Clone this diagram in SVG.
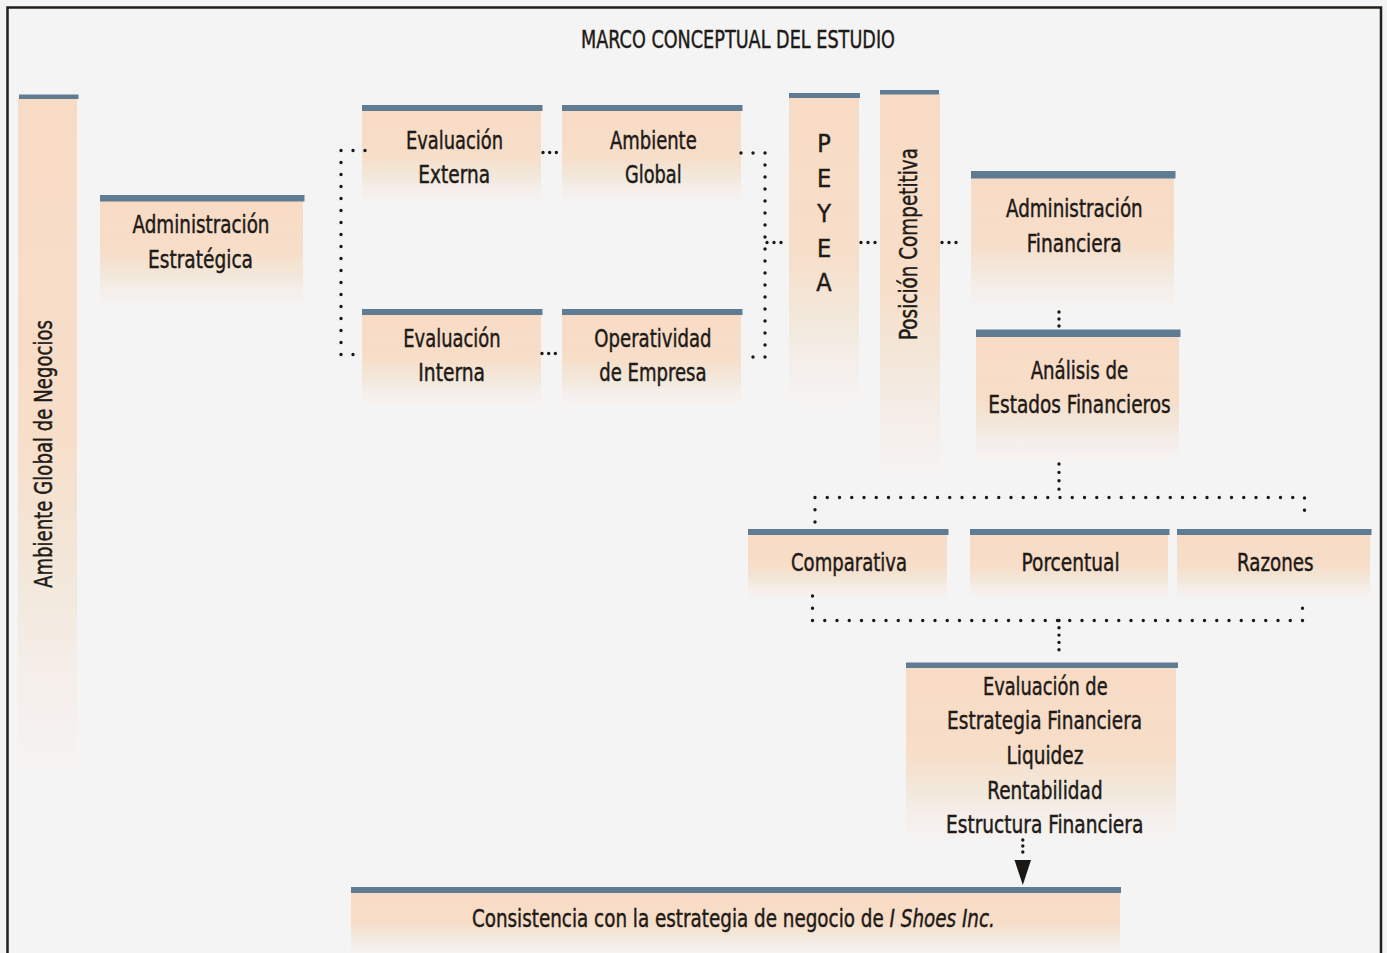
<svg xmlns="http://www.w3.org/2000/svg" width="1387" height="953" viewBox="0 0 1387 953">
<style>
.t{font-family:"Liberation Sans Narrow","DejaVu Sans Condensed","Liberation Sans",sans-serif;font-size:25px;fill:#1e1a17;stroke:#1e1a17;stroke-width:0.45px}
.bar{fill:#5f7c93}
.box{fill:url(#g)}
.d12{fill:none;stroke:#1a1714;stroke-width:3.4;stroke-linecap:round;stroke-dasharray:0 12}
.d7{fill:none;stroke:#1a1714;stroke-width:3.4;stroke-linecap:round;stroke-dasharray:0 7}
</style>
<defs>
<linearGradient id="g" x1="0" y1="0" x2="0" y2="1">
<stop offset="0" stop-color="#f8dbc5"/>
<stop offset="0.5" stop-color="#f7dec9"/>
<stop offset="0.72" stop-color="#f2e8db"/>
<stop offset="0.86" stop-color="#f5eeea"/>
<stop offset="1" stop-color="#f5f3f1"/>
</linearGradient>
</defs>
<rect x="0" y="0" width="1387" height="953" fill="#f4f4f4"/>
<rect x="7.5" y="7.5" width="1373.5" height="960" fill="#f4f4f4" stroke="#231e1a" stroke-width="2.5"/>
<text class="t" x="581" y="48" font-size="24" textLength="314" lengthAdjust="spacingAndGlyphs">MARCO CONCEPTUAL DEL ESTUDIO</text>

<g id="ambiente-global-negocios">
<rect class="box" x="18" y="98" width="59" height="672"/>
<rect class="bar" x="19" y="94.5" width="59.5" height="4.5"/>
<text class="t" transform="translate(51.5,588) rotate(-90)" x="0" y="0" textLength="268" lengthAdjust="spacingAndGlyphs">Ambiente Global de Negocios</text>
</g>

<g id="admin-estrategica">
<rect class="box" x="100" y="201" width="203" height="104"/>
<rect class="bar" x="100" y="195" width="204.5" height="6.5"/>
<text class="t" x="132.5" y="233" textLength="137" lengthAdjust="spacingAndGlyphs">Administración</text>
<text class="t" x="148" y="267.5" textLength="105" lengthAdjust="spacingAndGlyphs">Estratégica</text>
</g>

<g id="evaluacion-externa">
<rect class="box" x="362" y="111" width="179" height="91"/>
<rect class="bar" x="362" y="105" width="180.5" height="6"/>
<text class="t" x="406" y="148.5" textLength="97" lengthAdjust="spacingAndGlyphs">Evaluación</text>
<text class="t" x="418.3" y="182.7" textLength="71.7" lengthAdjust="spacingAndGlyphs">Externa</text>
</g>

<g id="ambiente-global">
<rect class="box" x="562" y="111" width="179" height="91"/>
<rect class="bar" x="562" y="105" width="180.5" height="6"/>
<text class="t" x="610" y="148.5" textLength="86.7" lengthAdjust="spacingAndGlyphs">Ambiente</text>
<text class="t" x="625" y="182.7" textLength="56.7" lengthAdjust="spacingAndGlyphs">Global</text>
</g>

<g id="evaluacion-interna">
<rect class="box" x="362" y="315" width="179" height="90"/>
<rect class="bar" x="362" y="309" width="180.5" height="6"/>
<text class="t" x="403.3" y="346.5" textLength="97.3" lengthAdjust="spacingAndGlyphs">Evaluación</text>
<text class="t" x="418.3" y="380.7" textLength="66.7" lengthAdjust="spacingAndGlyphs">Interna</text>
</g>

<g id="operatividad">
<rect class="box" x="562" y="315" width="179" height="90"/>
<rect class="bar" x="562" y="309" width="180.5" height="6"/>
<text class="t" x="594.3" y="346.5" textLength="117.3" lengthAdjust="spacingAndGlyphs">Operatividad</text>
<text class="t" x="599.3" y="380.7" textLength="107.3" lengthAdjust="spacingAndGlyphs">de Empresa</text>
</g>

<g id="peyea">
<rect class="box" x="789" y="98" width="70" height="307"/>
<rect class="bar" x="789" y="93" width="71" height="5"/>
<text class="t" x="824" y="152" font-size="24" text-anchor="middle">P</text>
<text class="t" x="824" y="187" font-size="24" text-anchor="middle">E</text>
<text class="t" x="824" y="222" font-size="24" text-anchor="middle">Y</text>
<text class="t" x="824" y="257" font-size="24" text-anchor="middle">E</text>
<text class="t" x="824" y="291" font-size="24" text-anchor="middle">A</text>
</g>

<g id="posicion-competitiva">
<rect class="box" x="880" y="94" width="60" height="382"/>
<rect class="bar" x="880" y="90" width="59" height="4.5"/>
<text class="t" transform="translate(916.5,340) rotate(-90)" x="0" y="0" textLength="192" lengthAdjust="spacingAndGlyphs">Posición Competitiva</text>
</g>

<g id="admin-financiera">
<rect class="box" x="971" y="178" width="203" height="129"/>
<rect class="bar" x="971" y="171" width="204.5" height="7.5"/>
<text class="t" x="1006" y="216.7" textLength="136.7" lengthAdjust="spacingAndGlyphs">Administración</text>
<text class="t" x="1026.7" y="251.7" textLength="95" lengthAdjust="spacingAndGlyphs">Financiera</text>
</g>

<g id="analisis-estados">
<rect class="box" x="976" y="337" width="203" height="123"/>
<rect class="bar" x="976" y="329.5" width="204.5" height="7.5"/>
<text class="t" x="1030.7" y="379.3" textLength="97.6" lengthAdjust="spacingAndGlyphs">Análisis de</text>
<text class="t" x="988.3" y="413.3" textLength="182.4" lengthAdjust="spacingAndGlyphs">Estados Financieros</text>
</g>

<g id="comparativa">
<rect class="box" x="748" y="535" width="199" height="63"/>
<rect class="bar" x="748" y="529" width="200.5" height="6"/>
<text class="t" x="791" y="570.5" textLength="116" lengthAdjust="spacingAndGlyphs">Comparativa</text>
</g>

<g id="porcentual">
<rect class="box" x="970" y="535" width="198" height="63"/>
<rect class="bar" x="970" y="529" width="199.5" height="6"/>
<text class="t" x="1021.6" y="570.5" textLength="98" lengthAdjust="spacingAndGlyphs">Porcentual</text>
</g>

<g id="razones">
<rect class="box" x="1177" y="535" width="193" height="63"/>
<rect class="bar" x="1177" y="529" width="194.5" height="6"/>
<text class="t" x="1237" y="570.5" textLength="76.5" lengthAdjust="spacingAndGlyphs">Razones</text>
</g>

<g id="evaluacion-estrategia">
<rect class="box" x="906" y="668" width="270" height="170"/>
<rect class="bar" x="906" y="662.5" width="272" height="5.5"/>
<text class="t" x="982.9" y="695" textLength="124.7" lengthAdjust="spacingAndGlyphs">Evaluación de</text>
<text class="t" x="947.1" y="729.3" textLength="195" lengthAdjust="spacingAndGlyphs">Estrategia Financiera</text>
<text class="t" x="1006.5" y="764" textLength="77" lengthAdjust="spacingAndGlyphs">Liquidez</text>
<text class="t" x="987.3" y="799.3" textLength="115.3" lengthAdjust="spacingAndGlyphs">Rentabilidad</text>
<text class="t" x="946" y="833.3" textLength="197.3" lengthAdjust="spacingAndGlyphs">Estructura Financiera</text>
</g>

<g id="consistencia">
<rect class="box" x="351" y="893" width="769" height="60"/>
<rect class="bar" x="351" y="887" width="770" height="6"/>
<text class="t" x="471.9" y="926.7" textLength="523" lengthAdjust="spacingAndGlyphs">Consistencia con la estrategia de negocio de <tspan font-style="italic">I Shoes Inc.</tspan></text>
</g>

<g id="connectors">
<path class="d12" d="M365,150.5 H341 V354.5 H365"/>
<path class="d12" d="M741,153 H765 V357 H741"/>
<path class="d7" d="M543,152.5 H563" style="stroke-dasharray:0 6.67"/>
<path class="d7" d="M542,353.5 H562" style="stroke-dasharray:0 6.67"/>
<path class="d7" d="M767,242.5 H788"/>
<path class="d7" d="M861,242.5 H882"/>
<path class="d7" d="M942,242.5 H963"/>
<path class="d7" d="M1059,312 V333"/>
<path class="d7" d="M1059,464 V497.5" style="stroke-dasharray:0 8.375"/>
<path class="d12" d="M815,522 V497.5 H1304.5 V522" style="stroke-dasharray:0 12.25"/>
<path class="d12" d="M812.5,596 V620.5 H1302.5 V596" style="stroke-dasharray:0 12.25"/>
<path class="d7" d="M1059,620.5 V657" style="stroke-dasharray:0 7.3"/>
<path class="d7" d="M1022.8,840 V858" style="stroke-dasharray:0 6"/>
<polygon points="1014.5,860 1031,860 1022.8,885" fill="#1a1714"/>
</g>
</svg>
